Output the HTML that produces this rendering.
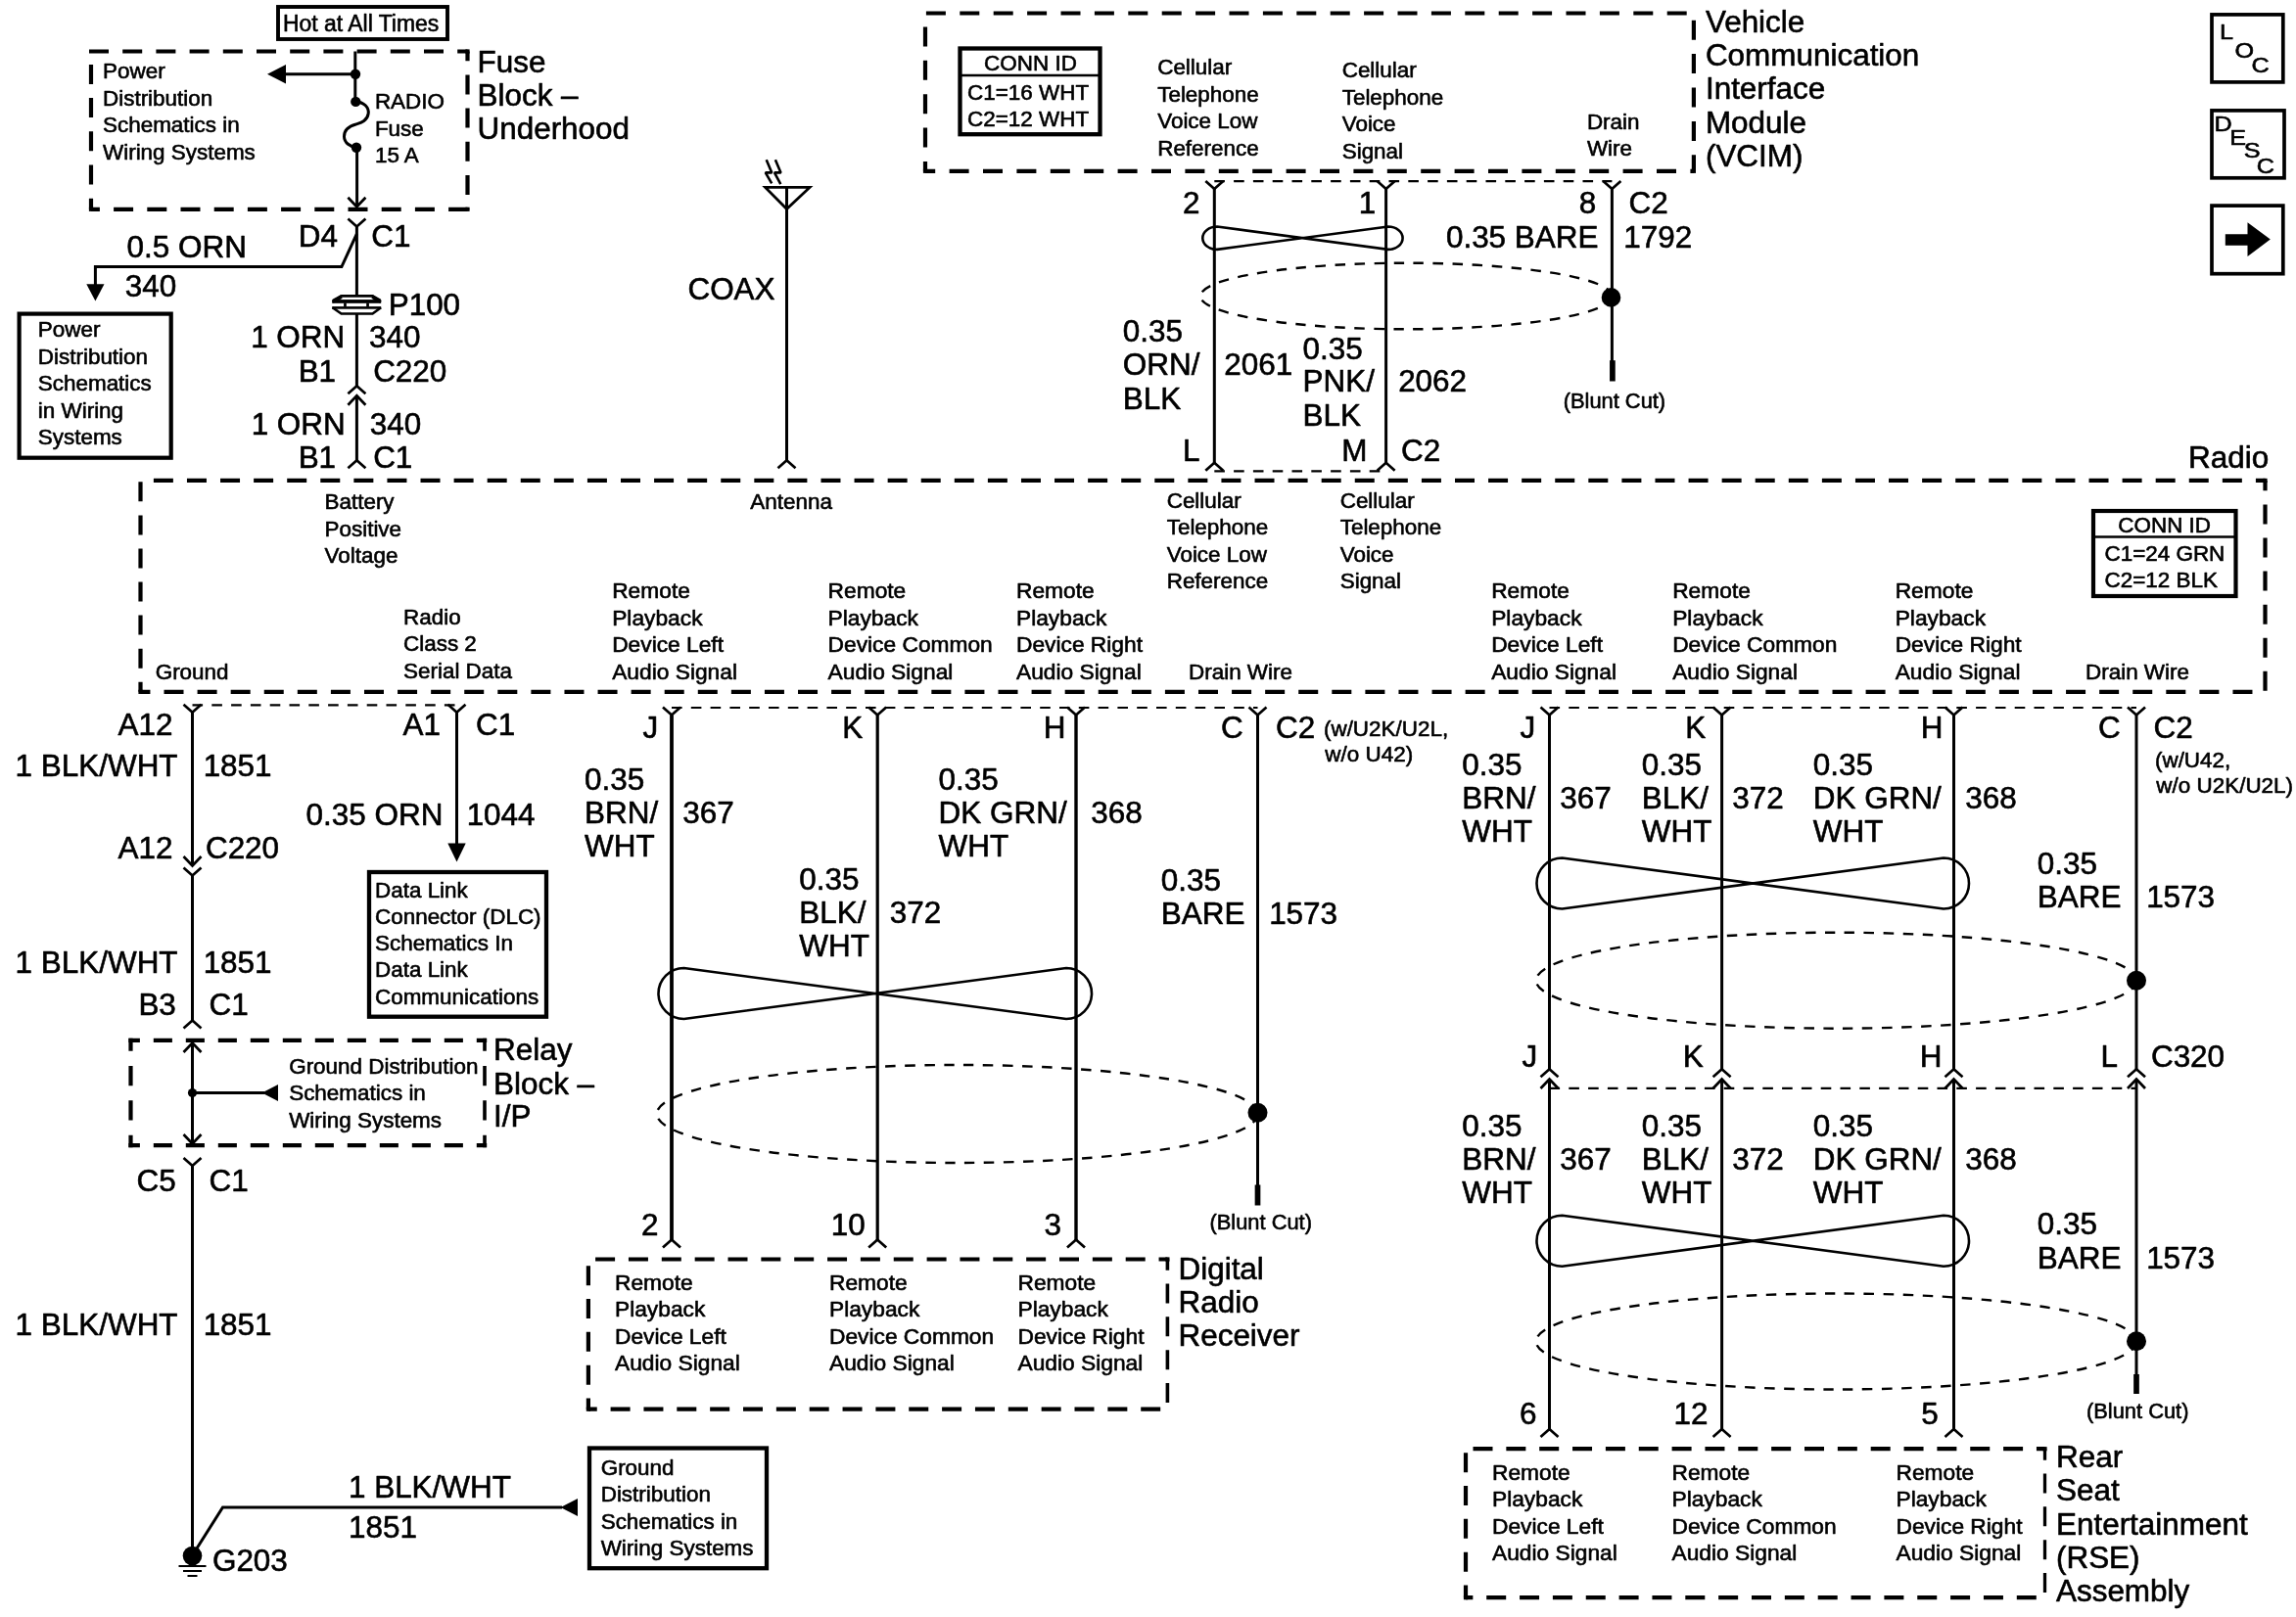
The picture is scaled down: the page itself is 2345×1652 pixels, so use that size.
<!DOCTYPE html>
<html lang="en"><head><meta charset="utf-8"><title>Radio/Audio System Schematics</title>
<style>
html,body{margin:0;padding:0;background:#fff}
svg{display:block;filter:grayscale(1)}
text{font-family:"Liberation Sans",sans-serif;fill:#000;stroke:#000;stroke-width:.6;stroke-linejoin:round}
.S{font-size:22.0px}.L{font-size:31.3px}.B{font-size:22.5px}.H{font-size:23.3px}
.w{stroke:#000;stroke-width:3;fill:none}
.c{stroke:#000;stroke-width:2.7;fill:none}
.c2{stroke:#000;stroke-width:2.8;fill:none;stroke-linejoin:miter}
.bolt{stroke:#000;stroke-width:2.6;fill:none;stroke-linejoin:bevel}
.tw{stroke:#000;stroke-width:2.6;fill:none}
.f{fill:#000;stroke:none}
.db{stroke:#000;stroke-width:4.2;fill:none;stroke-dasharray:20 14.2}
.td{stroke:#000;stroke-width:2.2;fill:none;stroke-dasharray:10.6 9.2}
.el{stroke:#000;stroke-width:2.4;fill:none;stroke-dasharray:10.5 9.5}
.sb{stroke:#000;fill:none}
</style></head>
<body>
<svg width="2345" height="1652" viewBox="0 0 2345 1652">
<rect x="0" y="0" width="2345" height="1652" fill="#fff"/>
<rect class="sb" x="284.00" y="7.00" width="173.00" height="33.00" stroke-width="3.9"/>
<text class="H" transform="translate(288.96,31.80) scale(0.985,1)">Hot at All Times</text>
<line class="db" x1="91.00" y1="52.50" x2="477.50" y2="52.50" style="stroke-width:4.2;stroke-dasharray:20.00 14.20;stroke-dashoffset:0.00"/>
<rect class="f" x="475.40" y="50.40" width="4.20" height="4.20"/>
<line class="db" x1="477.50" y1="52.50" x2="477.50" y2="213.80" style="stroke-width:4.2;stroke-dasharray:20.00 14.20;stroke-dashoffset:10.30"/>
<rect class="f" x="475.40" y="211.70" width="4.20" height="4.20"/>
<line class="db" x1="477.50" y1="213.80" x2="93.00" y2="213.80" style="stroke-width:4.2;stroke-dasharray:20.00 14.20;stroke-dashoffset:0.60"/>
<rect class="f" x="90.90" y="211.70" width="4.20" height="4.20"/>
<line class="db" x1="93.00" y1="213.80" x2="93.00" y2="52.50" style="stroke-width:4.2;stroke-dasharray:20.00 14.20;stroke-dashoffset:8.90"/>
<text class="S" transform="translate(105.00,80.00) scale(1.020,1)">Power</text>
<text class="S" transform="translate(105.00,107.50) scale(1.020,1)">Distribution</text>
<text class="S" transform="translate(105.00,135.00) scale(1.020,1)">Schematics in</text>
<text class="S" transform="translate(105.00,162.50) scale(1.020,1)">Wiring Systems</text>
<text class="S" transform="translate(382.90,111.40) scale(1.020,1)">RADIO</text>
<text class="S" transform="translate(382.90,138.90) scale(1.020,1)">Fuse</text>
<text class="S" transform="translate(382.90,166.40) scale(1.020,1)">15 A</text>
<text class="L" transform="translate(487.48,74.00) scale(1.005,1)">Fuse</text>
<text class="L" transform="translate(487.48,108.00) scale(1.005,1)">Block –</text>
<text class="L" transform="translate(487.48,142.00) scale(1.005,1)">Underhood</text>
<line class="w" x1="362.80" y1="52.50" x2="362.80" y2="104.00"/>
<line class="w" x1="291.00" y1="75.70" x2="363.00" y2="75.70"/>
<polygon class="f" points="273.00,75.70 292.00,66.00 292.00,85.40"/>
<circle class="f" cx="363.00" cy="75.70" r="5.20"/>
<circle class="f" cx="363.30" cy="103.90" r="5.20"/>
<circle class="f" cx="364.00" cy="150.80" r="5.20"/>
<path class="w" d="M363.3 103.9C372 104 377 110 376.2 116C375 124 368 125.5 363.5 127C358 128.5 351.5 132 351.5 139.5C351.5 146 358 150 364 150.8"/>
<line class="w" x1="364.60" y1="150.80" x2="364.60" y2="210.00"/>
<path class="c" d="M355.40 201.70L364.40 211.20L373.40 201.70"/>
<path class="c" d="M355.40 223.50L364.40 231.50L373.40 223.50"/>
<line class="w" x1="364.40" y1="232.00" x2="364.40" y2="302.00"/>
<text class="L" transform="translate(304.68,251.60) scale(1.005,1)">D4</text>
<text class="L" transform="translate(379.33,251.60) scale(1.005,1)">C1</text>
<path class="w" d="M364.4 238.8L348.9 272.6H97.4V291"/>
<polygon class="f" points="97.40,307.40 88.30,290.20 106.50,290.20"/>
<text class="L" transform="translate(129.62,262.90) scale(1.005,1)">0.5 ORN</text>
<text class="L" transform="translate(127.82,302.80) scale(1.005,1)">340</text>
<path class="c" d="M339.8 308.6L348.8 302.4H380.3L388.9 308.6" style="stroke-width:2.7;stroke-linejoin:miter"/>
<path class="c" d="M340.5 307.5L348.8 303" style="stroke-width:3.8"/>
<path class="c" d="M388.2 307.5L380.3 303" style="stroke-width:3.8"/>
<path class="c" d="M339.6 314.2L348.6 320.5H380.5L389.1 314.2" style="stroke-width:2.6"/>
<rect class="f" x="339.2" y="306.1" width="50" height="3.7"/>
<rect class="f" x="339.2" y="313.1" width="50" height="2.6"/>
<rect class="f" x="351.1" y="309.5" width="2.7" height="4"/>
<rect class="f" x="374.2" y="309.5" width="2.7" height="4"/>
<text class="L" transform="translate(396.68,322.00) scale(1.005,1)">P100</text>
<line class="w" x1="364.40" y1="320.70" x2="364.40" y2="394.50"/>
<text class="L" transform="translate(256.14,354.90) scale(1.005,1)">1 ORN</text>
<text class="L" transform="translate(377.02,354.90) scale(1.005,1)">340</text>
<text class="L" transform="translate(304.64,389.70) scale(1.005,1)">B1</text>
<text class="L" transform="translate(381.13,389.70) scale(1.005,1)">C220</text>
<path class="c" d="M355.40 402.30L364.40 394.30L373.40 402.30"/>
<path class="c" d="M355.40 413.80L364.40 404.30L373.40 413.80"/>
<line class="w" x1="364.40" y1="404.80" x2="364.40" y2="470.50"/>
<text class="L" transform="translate(256.64,443.60) scale(1.005,1)">1 ORN</text>
<text class="L" transform="translate(377.82,443.60) scale(1.005,1)">340</text>
<text class="L" transform="translate(304.64,478.40) scale(1.005,1)">B1</text>
<text class="L" transform="translate(381.13,478.40) scale(1.005,1)">C1</text>
<path class="c" d="M355.40 478.20L364.40 470.20L373.40 478.20"/>
<rect class="sb" x="19.60" y="320.60" width="155.10" height="147.10" stroke-width="4.2"/>
<text class="S" transform="translate(38.80,344.30) scale(1.020,1)">Power</text>
<text class="S" transform="translate(38.80,371.80) scale(1.020,1)">Distribution</text>
<text class="S" transform="translate(38.80,399.30) scale(1.020,1)">Schematics</text>
<text class="S" transform="translate(38.80,426.80) scale(1.020,1)">in Wiring</text>
<text class="S" transform="translate(38.80,454.30) scale(1.020,1)">Systems</text>
<line class="w" x1="803.50" y1="191.30" x2="803.50" y2="470.50"/>
<path class="c2" d="M781.6 191.4H827L803.5 213.6Z"/>
<path class="bolt" d="M782.7 163.3L788.3 176.4H781.8L788.2 187.4"/>
<path class="bolt" d="M791.9 163.3L797.5 176.4H791L797.3 188.2"/>
<path class="c" d="M794.50 478.20L803.50 470.20L812.50 478.20"/>
<text class="L" transform="translate(702.45,306.00) scale(1.005,1)">COAX</text>
<line class="db" x1="945.00" y1="13.50" x2="1729.90" y2="13.50" style="stroke-width:4.2;stroke-dasharray:20.00 14.40;stroke-dashoffset:33.50"/>
<line class="db" x1="1729.90" y1="13.50" x2="1729.90" y2="174.80" style="stroke-width:4.2;stroke-dasharray:20.00 14.40;stroke-dashoffset:27.20"/>
<rect class="f" x="1727.80" y="172.70" width="4.20" height="4.20"/>
<line class="db" x1="1729.90" y1="174.80" x2="945.00" y2="174.80" style="stroke-width:4.2;stroke-dasharray:20.00 14.40;stroke-dashoffset:16.50"/>
<rect class="f" x="942.90" y="172.70" width="4.20" height="4.20"/>
<line class="db" x1="945.00" y1="174.80" x2="945.00" y2="13.50" style="stroke-width:4.2;stroke-dasharray:20.00 14.40;stroke-dashoffset:10.20"/>
<rect class="sb" x="980.50" y="49.50" width="143.00" height="87.70" stroke-width="4.3"/>
<line class="c" x1="980.50" y1="77.00" x2="1123.50" y2="77.00" style="stroke-width:2.3"/>
<text class="S" transform="translate(1005.10,71.50) scale(1.020,1)">CONN ID</text>
<text class="S" transform="translate(988.08,101.80) scale(1.020,1)">C1=16 WHT</text>
<text class="S" transform="translate(988.08,129.40) scale(1.020,1)">C2=12 WHT</text>
<text class="S" transform="translate(1182.18,76.00) scale(1.020,1)">Cellular</text>
<text class="S" transform="translate(1182.18,103.50) scale(1.020,1)">Telephone</text>
<text class="S" transform="translate(1182.18,131.00) scale(1.020,1)">Voice Low</text>
<text class="S" transform="translate(1182.18,158.50) scale(1.020,1)">Reference</text>
<text class="S" transform="translate(1370.68,79.00) scale(1.020,1)">Cellular</text>
<text class="S" transform="translate(1370.68,106.50) scale(1.020,1)">Telephone</text>
<text class="S" transform="translate(1370.68,134.00) scale(1.020,1)">Voice</text>
<text class="S" transform="translate(1370.68,161.50) scale(1.020,1)">Signal</text>
<text class="S" transform="translate(1620.90,131.50) scale(1.020,1)">Drain</text>
<text class="S" transform="translate(1620.90,158.70) scale(1.020,1)">Wire</text>
<text class="L" transform="translate(1741.92,33.10) scale(1.005,1)">Vehicle</text>
<text class="L" transform="translate(1741.92,67.10) scale(1.005,1)">Communication</text>
<text class="L" transform="translate(1741.92,101.00) scale(1.005,1)">Interface</text>
<text class="L" transform="translate(1741.92,135.90) scale(1.005,1)">Module</text>
<text class="L" transform="translate(1741.92,169.90) scale(1.005,1)">(VCIM)</text>
<rect class="sb" x="2259.00" y="14.90" width="72.80" height="69.00" stroke-width="3.7"/>
<text class="B" transform="translate(2267.08,39.90) scale(1.120,1)">L</text>
<text class="B" transform="translate(2282.47,59.00) scale(1.120,1)">O</text>
<text class="B" transform="translate(2299.44,74.20) scale(1.120,1)">C</text>
<rect class="sb" x="2259.00" y="112.90" width="74.00" height="68.90" stroke-width="3.7"/>
<text class="B" transform="translate(2261.58,133.60) scale(1.120,1)">D</text>
<text class="B" transform="translate(2277.28,147.50) scale(1.120,1)">E</text>
<text class="B" transform="translate(2291.77,161.40) scale(1.120,1)">S</text>
<text class="B" transform="translate(2304.64,176.60) scale(1.120,1)">C</text>
<rect class="sb" x="2259.00" y="210.10" width="72.80" height="69.60" stroke-width="3.7"/>
<polygon class="f" points="2272.80,239.30 2295.50,239.30 2295.50,227.30 2318.80,244.60 2295.50,262.00 2295.50,250.80 2272.80,250.80"/>
<path class="c" d="M1231.30 184.90L1240.30 192.90L1249.30 184.90"/>
<path class="c" d="M1406.60 184.90L1415.60 192.90L1424.60 184.90"/>
<path class="c" d="M1637.40 184.90L1646.40 192.90L1655.40 184.90"/>
<line class="td" x1="1240.30" y1="185.05" x2="1646.40" y2="185.05"/>
<line class="w" x1="1240.30" y1="192.50" x2="1240.30" y2="473.00"/>
<line class="w" x1="1415.60" y1="192.50" x2="1415.60" y2="473.00"/>
<line class="w" x1="1646.40" y1="192.50" x2="1646.40" y2="370.00"/>
<line class="w" x1="1646.90" y1="368.20" x2="1646.90" y2="389.50" style="stroke-width:5.7"/>
<text class="L" transform="translate(1208.04,218.30) scale(1.005,1)">2</text>
<text class="L" transform="translate(1387.64,218.30) scale(1.005,1)">1</text>
<text class="L" transform="translate(1612.80,218.30) scale(1.005,1)">8</text>
<text class="L" transform="translate(1663.43,218.30) scale(1.005,1)">C2</text>
<path class="tw" d="M1243.10 231.50L1417.80 254.90A14.80 11.70 0 0 0 1417.80 231.50L1243.10 254.90A14.80 11.70 0 0 1 1243.10 231.50Z"/>
<text class="L" transform="translate(1476.91,252.80) scale(1.005,1)">0.35 BARE</text>
<text class="L" transform="translate(1658.24,252.80) scale(1.005,1)">1792</text>
<ellipse class="el" cx="1436.20" cy="302.50" rx="210.20" ry="33.80"/>
<circle class="f" cx="1645.50" cy="303.90" r="9.80"/>
<text class="S" transform="translate(1596.69,417.20) scale(0.994,1)">(Blunt Cut)</text>
<text class="L" transform="translate(1146.82,348.50) scale(1.005,1)">0.35</text>
<text class="L" transform="translate(1146.82,383.40) scale(1.005,1)">ORN/</text>
<text class="L" transform="translate(1146.82,417.50) scale(1.005,1)">BLK</text>
<text class="L" transform="translate(1250.23,383.40) scale(1.005,1)">2061</text>
<text class="L" transform="translate(1330.62,366.60) scale(1.005,1)">0.35</text>
<text class="L" transform="translate(1330.62,400.40) scale(1.005,1)">PNK/</text>
<text class="L" transform="translate(1330.62,435.20) scale(1.005,1)">BLK</text>
<text class="L" transform="translate(1428.13,400.40) scale(1.005,1)">2062</text>
<text class="L" transform="translate(1207.89,471.00) scale(1.005,1)">L</text>
<text class="L" transform="translate(1370.13,471.00) scale(1.005,1)">M</text>
<text class="L" transform="translate(1431.03,471.00) scale(1.005,1)">C2</text>
<path class="c" d="M1231.30 480.70L1240.30 472.70L1249.30 480.70"/>
<path class="c" d="M1406.60 480.70L1415.60 472.70L1424.60 480.70"/>
<line class="td" x1="1240.30" y1="481.40" x2="1415.60" y2="481.40"/>
<text class="L" transform="translate(2235.08,477.50) scale(1.005,1)">Radio</text>
<line class="db" x1="143.50" y1="490.90" x2="143.50" y2="706.85" style="stroke-width:4.2;stroke-dasharray:20.00 14.08;stroke-dashoffset:32.68"/>
<rect class="f" x="141.40" y="704.75" width="4.20" height="4.20"/>
<line class="db" x1="143.50" y1="706.85" x2="2313.50" y2="706.85" style="stroke-width:4.2;stroke-dasharray:20.00 14.08;stroke-dashoffset:10.07"/>
<line class="db" x1="2313.50" y1="706.85" x2="2313.50" y2="490.90" style="stroke-width:4.2;stroke-dasharray:20.00 14.08;stroke-dashoffset:33.03"/>
<rect class="f" x="2311.40" y="488.80" width="4.20" height="4.20"/>
<line class="db" x1="2313.50" y1="490.90" x2="143.50" y2="490.90" style="stroke-width:4.2;stroke-dasharray:20.00 14.08;stroke-dashoffset:10.42"/>
<text class="S" transform="translate(331.50,520.00) scale(1.020,1)">Battery</text>
<text class="S" transform="translate(331.50,547.50) scale(1.020,1)">Positive</text>
<text class="S" transform="translate(331.50,575.00) scale(1.020,1)">Voltage</text>
<text class="S" transform="translate(766.30,520.00) scale(1.020,1)">Antenna</text>
<text class="S" transform="translate(158.68,694.00) scale(1.020,1)">Ground</text>
<text class="S" transform="translate(412.00,637.70) scale(1.020,1)">Radio</text>
<text class="S" transform="translate(412.00,665.20) scale(1.020,1)">Class 2</text>
<text class="S" transform="translate(412.00,692.70) scale(1.020,1)">Serial Data</text>
<text class="S" transform="translate(625.18,611.00) scale(1.035,1)">Remote</text>
<text class="S" transform="translate(625.18,638.60) scale(1.035,1)">Playback</text>
<text class="S" transform="translate(625.18,666.20) scale(1.035,1)">Device Left</text>
<text class="S" transform="translate(625.18,693.80) scale(1.035,1)">Audio Signal</text>
<text class="S" transform="translate(845.58,611.00) scale(1.035,1)">Remote</text>
<text class="S" transform="translate(845.58,638.60) scale(1.035,1)">Playback</text>
<text class="S" transform="translate(845.58,666.20) scale(1.035,1)">Device Common</text>
<text class="S" transform="translate(845.58,693.80) scale(1.035,1)">Audio Signal</text>
<text class="S" transform="translate(1037.98,611.00) scale(1.035,1)">Remote</text>
<text class="S" transform="translate(1037.98,638.60) scale(1.035,1)">Playback</text>
<text class="S" transform="translate(1037.98,666.20) scale(1.035,1)">Device Right</text>
<text class="S" transform="translate(1037.98,693.80) scale(1.035,1)">Audio Signal</text>
<text class="S" transform="translate(1191.68,518.50) scale(1.020,1)">Cellular</text>
<text class="S" transform="translate(1191.68,546.00) scale(1.020,1)">Telephone</text>
<text class="S" transform="translate(1191.68,573.50) scale(1.020,1)">Voice Low</text>
<text class="S" transform="translate(1191.68,601.00) scale(1.020,1)">Reference</text>
<text class="S" transform="translate(1368.68,518.50) scale(1.020,1)">Cellular</text>
<text class="S" transform="translate(1368.68,546.00) scale(1.020,1)">Telephone</text>
<text class="S" transform="translate(1368.68,573.50) scale(1.020,1)">Voice</text>
<text class="S" transform="translate(1368.68,601.00) scale(1.020,1)">Signal</text>
<text class="S" transform="translate(1214.00,694.00) scale(1.020,1)">Drain Wire</text>
<text class="S" transform="translate(1523.18,611.10) scale(1.035,1)">Remote</text>
<text class="S" transform="translate(1523.18,638.76) scale(1.035,1)">Playback</text>
<text class="S" transform="translate(1523.18,666.42) scale(1.035,1)">Device Left</text>
<text class="S" transform="translate(1523.18,694.08) scale(1.035,1)">Audio Signal</text>
<text class="S" transform="translate(1708.18,611.10) scale(1.035,1)">Remote</text>
<text class="S" transform="translate(1708.18,638.76) scale(1.035,1)">Playback</text>
<text class="S" transform="translate(1708.18,666.42) scale(1.035,1)">Device Common</text>
<text class="S" transform="translate(1708.18,694.08) scale(1.035,1)">Audio Signal</text>
<text class="S" transform="translate(1935.68,611.10) scale(1.035,1)">Remote</text>
<text class="S" transform="translate(1935.68,638.76) scale(1.035,1)">Playback</text>
<text class="S" transform="translate(1935.68,666.42) scale(1.035,1)">Device Right</text>
<text class="S" transform="translate(1935.68,694.08) scale(1.035,1)">Audio Signal</text>
<text class="S" transform="translate(2130.00,694.00) scale(1.020,1)">Drain Wire</text>
<rect class="sb" x="2138.00" y="522.00" width="145.50" height="87.00" stroke-width="4.2"/>
<line class="c" x1="2138.00" y1="548.50" x2="2283.50" y2="548.50" style="stroke-width:2.3"/>
<text class="S" transform="translate(2163.30,543.50) scale(1.020,1)">CONN ID</text>
<text class="S" transform="translate(2149.48,572.50) scale(1.020,1)">C1=24 GRN</text>
<text class="S" transform="translate(2149.48,600.30) scale(1.020,1)">C2=12 BLK</text>
<path class="c" d="M187.50 719.80L196.50 727.80L205.50 719.80"/>
<path class="c" d="M457.50 719.80L466.50 727.80L475.50 719.80"/>
<line class="td" x1="196.50" y1="720.30" x2="466.50" y2="720.30"/>
<text class="L" transform="translate(120.58,751.00) scale(1.005,1)">A12</text>
<text class="L" transform="translate(411.54,751.00) scale(1.005,1)">A1</text>
<text class="L" transform="translate(485.93,751.00) scale(1.005,1)">C1</text>
<line class="w" x1="196.50" y1="727.00" x2="196.50" y2="884.00"/>
<text class="L" transform="translate(15.62,792.50) scale(1.005,1)">1 BLK/WHT</text>
<text class="L" transform="translate(207.64,792.50) scale(1.005,1)">1851</text>
<line class="w" x1="466.50" y1="727.00" x2="466.50" y2="862.00"/>
<polygon class="f" points="466.50,880.50 457.30,861.50 475.70,861.50"/>
<text class="L" transform="translate(312.61,842.50) scale(1.005,1)">0.35 ORN</text>
<text class="L" transform="translate(476.64,842.50) scale(1.005,1)">1044</text>
<rect class="sb" x="377.00" y="891.00" width="181.00" height="147.70" stroke-width="4.3"/>
<text class="S" transform="translate(383.00,916.50) scale(1.020,1)">Data Link</text>
<text class="S" transform="translate(383.00,943.80) scale(1.020,1)">Connector (DLC)</text>
<text class="S" transform="translate(383.00,971.10) scale(1.020,1)">Schematics In</text>
<text class="S" transform="translate(383.00,998.40) scale(1.020,1)">Data Link</text>
<text class="S" transform="translate(383.00,1025.70) scale(1.020,1)">Communications</text>
<text class="L" transform="translate(120.58,876.50) scale(1.005,1)">A12</text>
<text class="L" transform="translate(209.93,876.50) scale(1.005,1)">C220</text>
<path class="c" d="M187.50 875.00L196.50 884.50L205.50 875.00"/>
<path class="c" d="M187.50 886.50L196.50 894.50L205.50 886.50"/>
<line class="w" x1="196.50" y1="895.00" x2="196.50" y2="1043.00"/>
<text class="L" transform="translate(15.62,993.70) scale(1.005,1)">1 BLK/WHT</text>
<text class="L" transform="translate(207.64,993.70) scale(1.005,1)">1851</text>
<text class="L" transform="translate(141.38,1037.00) scale(1.005,1)">B3</text>
<text class="L" transform="translate(213.43,1037.00) scale(1.005,1)">C1</text>
<path class="c" d="M187.50 1050.50L196.50 1042.50L205.50 1050.50"/>
<line class="db" x1="131.40" y1="1062.90" x2="497.20" y2="1062.90" style="stroke-width:4.2;stroke-dasharray:19.10 13.90;stroke-dashoffset:7.60"/>
<line class="db" x1="131.40" y1="1170.20" x2="497.20" y2="1170.20" style="stroke-width:4.2;stroke-dasharray:19.10 13.90;stroke-dashoffset:7.60"/>
<line class="db" x1="133.50" y1="1060.80" x2="133.50" y2="1172.30" style="stroke-width:4.2;stroke-dasharray:20.30 15.10;stroke-dashoffset:7.30"/>
<line class="db" x1="495.00" y1="1060.80" x2="495.00" y2="1172.30" style="stroke-width:3.6;stroke-dasharray:20.30 15.10;stroke-dashoffset:7.30"/>
<line class="w" x1="196.50" y1="1064.00" x2="196.50" y2="1170.00"/>
<path class="c" d="M187.50 1075.00L196.50 1065.50L205.50 1075.00"/>
<path class="c" d="M187.50 1159.00L196.50 1168.50L205.50 1159.00"/>
<circle class="f" cx="196.50" cy="1116.50" r="4.60"/>
<line class="w" x1="196.50" y1="1116.50" x2="270.00" y2="1116.50"/>
<polygon class="f" points="267.50,1116.50 284.00,1108.00 284.00,1125.00"/>
<text class="S" transform="translate(295.18,1096.50) scale(1.020,1)">Ground Distribution</text>
<text class="S" transform="translate(295.18,1124.00) scale(1.020,1)">Schematics in</text>
<text class="S" transform="translate(295.18,1151.50) scale(1.020,1)">Wiring Systems</text>
<text class="L" transform="translate(503.98,1082.70) scale(1.005,1)">Relay</text>
<text class="L" transform="translate(503.98,1117.50) scale(1.005,1)">Block –</text>
<text class="L" transform="translate(503.98,1151.30) scale(1.005,1)">I/P</text>
<path class="c" d="M187.50 1183.00L196.50 1191.00L205.50 1183.00"/>
<line class="w" x1="196.50" y1="1191.00" x2="196.50" y2="1589.00"/>
<text class="L" transform="translate(139.57,1216.50) scale(1.005,1)">C5</text>
<text class="L" transform="translate(213.43,1216.50) scale(1.005,1)">C1</text>
<text class="L" transform="translate(15.62,1364.00) scale(1.005,1)">1 BLK/WHT</text>
<text class="L" transform="translate(207.64,1364.00) scale(1.005,1)">1851</text>
<circle class="f" cx="196.50" cy="1589.50" r="9.80"/>
<line class="c" x1="182.50" y1="1600.00" x2="210.50" y2="1600.00" style="stroke-width:2"/>
<line class="c" x1="187.00" y1="1605.00" x2="206.00" y2="1605.00" style="stroke-width:2"/>
<line class="c" x1="191.50" y1="1610.00" x2="201.50" y2="1610.00" style="stroke-width:2"/>
<text class="L" transform="translate(216.93,1605.00) scale(1.005,1)">G203</text>
<path class="w" d="M196.5 1589L227.5 1540H574"/>
<polygon class="f" points="572.50,1540.00 590.00,1531.00 590.00,1549.00"/>
<text class="L" transform="translate(355.94,1530.00) scale(1.005,1)">1 BLK/WHT</text>
<text class="L" transform="translate(355.94,1570.50) scale(1.005,1)">1851</text>
<rect class="sb" x="602.00" y="1479.50" width="181.00" height="122.70" stroke-width="4.3"/>
<text class="S" transform="translate(613.68,1506.50) scale(1.020,1)">Ground</text>
<text class="S" transform="translate(613.68,1534.00) scale(1.020,1)">Distribution</text>
<text class="S" transform="translate(613.68,1561.50) scale(1.020,1)">Schematics in</text>
<text class="S" transform="translate(613.68,1589.00) scale(1.020,1)">Wiring Systems</text>
<path class="c" d="M677.00 722.40L686.00 730.40L695.00 722.40"/>
<path class="c" d="M887.20 722.40L896.20 730.40L905.20 722.40"/>
<path class="c" d="M1090.00 722.40L1099.00 730.40L1108.00 722.40"/>
<path class="c" d="M1275.50 722.40L1284.50 730.40L1293.50 722.40"/>
<line class="td" x1="686.00" y1="723.00" x2="1284.50" y2="723.00"/>
<text class="L" transform="translate(656.55,754.00) scale(1.005,1)">J</text>
<text class="L" transform="translate(860.32,754.00) scale(1.005,1)">K</text>
<text class="L" transform="translate(1065.79,754.00) scale(1.005,1)">H</text>
<text class="L" transform="translate(1246.95,754.00) scale(1.005,1)">C</text>
<text class="L" transform="translate(1302.93,754.00) scale(1.005,1)">C2</text>
<text class="S" transform="translate(1351.95,751.50) scale(1.020,1)">(w/U2K/U2L,</text>
<text class="S" transform="translate(1353.36,777.50) scale(1.020,1)">w/o U42)</text>
<line class="w" x1="686.00" y1="730.40" x2="686.00" y2="1267.00" style="stroke-width:3.8"/>
<path class="c" d="M677.00 1274.50L686.00 1266.50L695.00 1274.50"/>
<line class="w" x1="896.20" y1="730.40" x2="896.20" y2="1267.00" style="stroke-width:3.2"/>
<path class="c" d="M887.20 1274.50L896.20 1266.50L905.20 1274.50"/>
<line class="w" x1="1099.00" y1="730.40" x2="1099.00" y2="1267.00" style="stroke-width:3.4"/>
<path class="c" d="M1090.00 1274.50L1099.00 1266.50L1108.00 1274.50"/>
<line class="w" x1="1284.50" y1="730.40" x2="1284.50" y2="1212.00"/>
<line class="w" x1="1284.50" y1="1210.50" x2="1284.50" y2="1231.50" style="stroke-width:5.7"/>
<text class="L" transform="translate(597.02,806.50) scale(1.005,1)">0.35</text>
<text class="L" transform="translate(597.02,841.00) scale(1.005,1)">BRN/</text>
<text class="L" transform="translate(597.02,875.00) scale(1.005,1)">WHT</text>
<text class="L" transform="translate(697.32,841.00) scale(1.005,1)">367</text>
<text class="L" transform="translate(958.62,806.50) scale(1.005,1)">0.35</text>
<text class="L" transform="translate(958.62,841.00) scale(1.005,1)">DK GRN/</text>
<text class="L" transform="translate(958.62,875.00) scale(1.005,1)">WHT</text>
<text class="L" transform="translate(1114.32,841.00) scale(1.005,1)">368</text>
<text class="L" transform="translate(816.32,908.50) scale(1.005,1)">0.35</text>
<text class="L" transform="translate(816.32,942.50) scale(1.005,1)">BLK/</text>
<text class="L" transform="translate(816.32,976.50) scale(1.005,1)">WHT</text>
<text class="L" transform="translate(908.82,942.50) scale(1.005,1)">372</text>
<text class="L" transform="translate(1185.82,910.00) scale(1.005,1)">0.35</text>
<text class="L" transform="translate(1185.82,943.50) scale(1.005,1)">BARE</text>
<text class="L" transform="translate(1296.14,943.50) scale(1.005,1)">1573</text>
<path class="tw" d="M698.50 989.00L1089.00 1041.00A26.00 26.00 0 0 0 1089.00 989.00L698.50 1041.00A26.00 26.00 0 0 1 698.50 989.00Z"/>
<ellipse class="el" cx="977.70" cy="1138.00" rx="306.90" ry="50.00"/>
<circle class="f" cx="1284.50" cy="1136.80" r="10.00"/>
<text class="S" transform="translate(1235.49,1255.50) scale(0.994,1)">(Blunt Cut)</text>
<text class="L" transform="translate(655.04,1261.50) scale(1.005,1)">2</text>
<text class="L" transform="translate(848.76,1261.50) scale(1.005,1)">10</text>
<text class="L" transform="translate(1066.38,1261.50) scale(1.005,1)">3</text>
<line class="db" x1="600.90" y1="1286.50" x2="1192.40" y2="1286.50" style="stroke-width:4.2;stroke-dasharray:20.00 13.85;stroke-dashoffset:26.65"/>
<rect class="f" x="1190.30" y="1284.40" width="4.20" height="4.20"/>
<line class="db" x1="1192.40" y1="1286.50" x2="1192.40" y2="1439.70" style="stroke-width:3.6;stroke-dasharray:20.00 13.85;stroke-dashoffset:8.85"/>
<line class="db" x1="1192.40" y1="1439.70" x2="600.90" y2="1439.70" style="stroke-width:4.2;stroke-dasharray:20.00 13.85;stroke-dashoffset:26.65"/>
<rect class="f" x="598.80" y="1437.60" width="4.20" height="4.20"/>
<line class="db" x1="600.90" y1="1439.70" x2="600.90" y2="1286.50" style="stroke-width:4.2;stroke-dasharray:20.00 13.85;stroke-dashoffset:8.85"/>
<text class="S" transform="translate(627.98,1317.50) scale(1.035,1)">Remote</text>
<text class="S" transform="translate(627.98,1345.00) scale(1.035,1)">Playback</text>
<text class="S" transform="translate(627.98,1372.50) scale(1.035,1)">Device Left</text>
<text class="S" transform="translate(627.98,1400.00) scale(1.035,1)">Audio Signal</text>
<text class="S" transform="translate(846.98,1317.50) scale(1.035,1)">Remote</text>
<text class="S" transform="translate(846.98,1345.00) scale(1.035,1)">Playback</text>
<text class="S" transform="translate(846.98,1372.50) scale(1.035,1)">Device Common</text>
<text class="S" transform="translate(846.98,1400.00) scale(1.035,1)">Audio Signal</text>
<text class="S" transform="translate(1039.48,1317.50) scale(1.035,1)">Remote</text>
<text class="S" transform="translate(1039.48,1345.00) scale(1.035,1)">Playback</text>
<text class="S" transform="translate(1039.48,1372.50) scale(1.035,1)">Device Right</text>
<text class="S" transform="translate(1039.48,1400.00) scale(1.035,1)">Audio Signal</text>
<text class="L" transform="translate(1203.48,1306.50) scale(1.005,1)">Digital</text>
<text class="L" transform="translate(1203.48,1340.50) scale(1.005,1)">Radio</text>
<text class="L" transform="translate(1203.48,1375.00) scale(1.005,1)">Receiver</text>
<path class="c" d="M1573.50 722.40L1582.50 730.40L1591.50 722.40"/>
<path class="c" d="M1749.60 722.40L1758.60 730.40L1767.60 722.40"/>
<path class="c" d="M1986.50 722.40L1995.50 730.40L2004.50 722.40"/>
<path class="c" d="M2173.00 722.40L2182.00 730.40L2191.00 722.40"/>
<line class="td" x1="1582.50" y1="723.00" x2="2182.00" y2="723.00"/>
<text class="L" transform="translate(1552.55,754.00) scale(1.005,1)">J</text>
<text class="L" transform="translate(1721.32,754.00) scale(1.005,1)">K</text>
<text class="L" transform="translate(1961.79,754.00) scale(1.005,1)">H</text>
<text class="L" transform="translate(2142.95,754.00) scale(1.005,1)">C</text>
<text class="L" transform="translate(2199.43,754.00) scale(1.005,1)">C2</text>
<text class="S" transform="translate(2200.95,783.50) scale(1.020,1)">(w/U42,</text>
<text class="S" transform="translate(2202.36,809.50) scale(1.020,1)">w/o U2K/U2L)</text>
<line class="w" x1="1582.50" y1="730.40" x2="1582.50" y2="1092.50"/>
<path class="c" d="M1573.50 1100.30L1582.50 1092.30L1591.50 1100.30"/>
<path class="c" d="M1573.50 1112.00L1582.50 1102.50L1591.50 1112.00"/>
<line class="w" x1="1758.60" y1="730.40" x2="1758.60" y2="1092.50"/>
<path class="c" d="M1749.60 1100.30L1758.60 1092.30L1767.60 1100.30"/>
<path class="c" d="M1749.60 1112.00L1758.60 1102.50L1767.60 1112.00"/>
<line class="w" x1="1995.50" y1="730.40" x2="1995.50" y2="1092.50"/>
<path class="c" d="M1986.50 1100.30L1995.50 1092.30L2004.50 1100.30"/>
<path class="c" d="M1986.50 1112.00L1995.50 1102.50L2004.50 1112.00"/>
<line class="w" x1="2182.00" y1="730.40" x2="2182.00" y2="1092.50"/>
<path class="c" d="M2173.00 1100.30L2182.00 1092.30L2191.00 1100.30"/>
<path class="c" d="M2173.00 1112.00L2182.00 1102.50L2191.00 1112.00"/>
<line class="td" x1="1582.50" y1="1111.90" x2="2182.00" y2="1111.90"/>
<line class="w" x1="1582.50" y1="1103.00" x2="1582.50" y2="1461.00"/>
<path class="c" d="M1573.50 1468.00L1582.50 1460.00L1591.50 1468.00"/>
<line class="w" x1="1758.60" y1="1103.00" x2="1758.60" y2="1461.00"/>
<path class="c" d="M1749.60 1468.00L1758.60 1460.00L1767.60 1468.00"/>
<line class="w" x1="1995.50" y1="1103.00" x2="1995.50" y2="1461.00"/>
<path class="c" d="M1986.50 1468.00L1995.50 1460.00L2004.50 1468.00"/>
<line class="w" x1="2182.00" y1="1103.00" x2="2182.00" y2="1406.00"/>
<line class="w" x1="2182.00" y1="1404.00" x2="2182.00" y2="1424.00" style="stroke-width:5.7"/>
<text class="L" transform="translate(1493.32,791.50) scale(1.005,1)">0.35</text>
<text class="L" transform="translate(1493.32,826.00) scale(1.005,1)">BRN/</text>
<text class="L" transform="translate(1493.32,860.00) scale(1.005,1)">WHT</text>
<text class="L" transform="translate(1593.32,826.00) scale(1.005,1)">367</text>
<text class="L" transform="translate(1676.82,791.50) scale(1.005,1)">0.35</text>
<text class="L" transform="translate(1676.82,826.00) scale(1.005,1)">BLK/</text>
<text class="L" transform="translate(1676.82,860.00) scale(1.005,1)">WHT</text>
<text class="L" transform="translate(1769.32,826.00) scale(1.005,1)">372</text>
<text class="L" transform="translate(1851.82,791.50) scale(1.005,1)">0.35</text>
<text class="L" transform="translate(1851.82,826.00) scale(1.005,1)">DK GRN/</text>
<text class="L" transform="translate(1851.82,860.00) scale(1.005,1)">WHT</text>
<text class="L" transform="translate(2007.32,826.00) scale(1.005,1)">368</text>
<text class="L" transform="translate(2080.82,892.50) scale(1.005,1)">0.35</text>
<text class="L" transform="translate(2080.82,926.50) scale(1.005,1)">BARE</text>
<text class="L" transform="translate(2192.14,926.50) scale(1.005,1)">1573</text>
<text class="L" transform="translate(1493.32,1160.50) scale(1.005,1)">0.35</text>
<text class="L" transform="translate(1493.32,1195.00) scale(1.005,1)">BRN/</text>
<text class="L" transform="translate(1493.32,1229.00) scale(1.005,1)">WHT</text>
<text class="L" transform="translate(1593.32,1195.00) scale(1.005,1)">367</text>
<text class="L" transform="translate(1676.82,1160.50) scale(1.005,1)">0.35</text>
<text class="L" transform="translate(1676.82,1195.00) scale(1.005,1)">BLK/</text>
<text class="L" transform="translate(1676.82,1229.00) scale(1.005,1)">WHT</text>
<text class="L" transform="translate(1769.32,1195.00) scale(1.005,1)">372</text>
<text class="L" transform="translate(1851.82,1160.50) scale(1.005,1)">0.35</text>
<text class="L" transform="translate(1851.82,1195.00) scale(1.005,1)">DK GRN/</text>
<text class="L" transform="translate(1851.82,1229.00) scale(1.005,1)">WHT</text>
<text class="L" transform="translate(2007.32,1195.00) scale(1.005,1)">368</text>
<text class="L" transform="translate(2080.82,1260.50) scale(1.005,1)">0.35</text>
<text class="L" transform="translate(2080.82,1295.50) scale(1.005,1)">BARE</text>
<text class="L" transform="translate(2192.14,1295.50) scale(1.005,1)">1573</text>
<path class="tw" d="M1595.50 876.50L1985.00 928.50A26.00 26.00 0 0 0 1985.00 876.50L1595.50 928.50A26.00 26.00 0 0 1 1595.50 876.50Z"/>
<path class="tw" d="M1595.50 1241.70L1985.00 1293.70A26.00 26.00 0 0 0 1985.00 1241.70L1595.50 1293.70A26.00 26.00 0 0 1 1595.50 1241.70Z"/>
<ellipse class="el" cx="1875.40" cy="1001.70" rx="306.60" ry="49.00"/>
<ellipse class="el" cx="1875.40" cy="1370.50" rx="306.60" ry="49.00"/>
<circle class="f" cx="2182.00" cy="1001.70" r="10.00"/>
<circle class="f" cx="2182.00" cy="1370.30" r="10.00"/>
<text class="L" transform="translate(1554.55,1089.70) scale(1.005,1)">J</text>
<text class="L" transform="translate(1718.82,1089.70) scale(1.005,1)">K</text>
<text class="L" transform="translate(1960.79,1089.70) scale(1.005,1)">H</text>
<text class="L" transform="translate(2145.49,1089.70) scale(1.005,1)">L</text>
<text class="L" transform="translate(2196.93,1089.70) scale(1.005,1)">C320</text>
<text class="S" transform="translate(2130.99,1449.00) scale(0.994,1)">(Blunt Cut)</text>
<text class="L" transform="translate(1551.88,1455.00) scale(1.005,1)">6</text>
<text class="L" transform="translate(1709.58,1455.00) scale(1.005,1)">12</text>
<text class="L" transform="translate(1962.30,1455.00) scale(1.005,1)">5</text>
<line class="db" x1="1497.00" y1="1480.20" x2="2088.50" y2="1480.20" style="stroke-width:4.2;stroke-dasharray:20.00 13.85;stroke-dashoffset:26.35"/>
<rect class="f" x="2086.40" y="1478.10" width="4.20" height="4.20"/>
<line class="db" x1="2088.50" y1="1480.20" x2="2088.50" y2="1632.20" style="stroke-width:3.3;stroke-dasharray:20.00 13.85;stroke-dashoffset:8.55"/>
<line class="db" x1="2088.50" y1="1632.20" x2="1497.00" y2="1632.20" style="stroke-width:4.2;stroke-dasharray:20.00 13.85;stroke-dashoffset:25.15"/>
<rect class="f" x="1494.90" y="1630.10" width="4.20" height="4.20"/>
<line class="db" x1="1497.00" y1="1632.20" x2="1497.00" y2="1480.20" style="stroke-width:4.2;stroke-dasharray:20.00 13.85;stroke-dashoffset:7.35"/>
<text class="S" transform="translate(1523.98,1511.50) scale(1.035,1)">Remote</text>
<text class="S" transform="translate(1523.98,1539.00) scale(1.035,1)">Playback</text>
<text class="S" transform="translate(1523.98,1566.50) scale(1.035,1)">Device Left</text>
<text class="S" transform="translate(1523.98,1594.00) scale(1.035,1)">Audio Signal</text>
<text class="S" transform="translate(1707.48,1511.50) scale(1.035,1)">Remote</text>
<text class="S" transform="translate(1707.48,1539.00) scale(1.035,1)">Playback</text>
<text class="S" transform="translate(1707.48,1566.50) scale(1.035,1)">Device Common</text>
<text class="S" transform="translate(1707.48,1594.00) scale(1.035,1)">Audio Signal</text>
<text class="S" transform="translate(1936.48,1511.50) scale(1.035,1)">Remote</text>
<text class="S" transform="translate(1936.48,1539.00) scale(1.035,1)">Playback</text>
<text class="S" transform="translate(1936.48,1566.50) scale(1.035,1)">Device Right</text>
<text class="S" transform="translate(1936.48,1594.00) scale(1.035,1)">Audio Signal</text>
<text class="L" transform="translate(2099.98,1498.80) scale(1.005,1)">Rear</text>
<text class="L" transform="translate(2099.98,1533.00) scale(1.005,1)">Seat</text>
<text class="L" transform="translate(2099.98,1568.00) scale(1.005,1)">Entertainment</text>
<text class="L" transform="translate(2099.98,1601.70) scale(1.005,1)">(RSE)</text>
<text class="L" transform="translate(2099.98,1635.60) scale(1.005,1)">Assembly</text>
</svg>
</body></html>
